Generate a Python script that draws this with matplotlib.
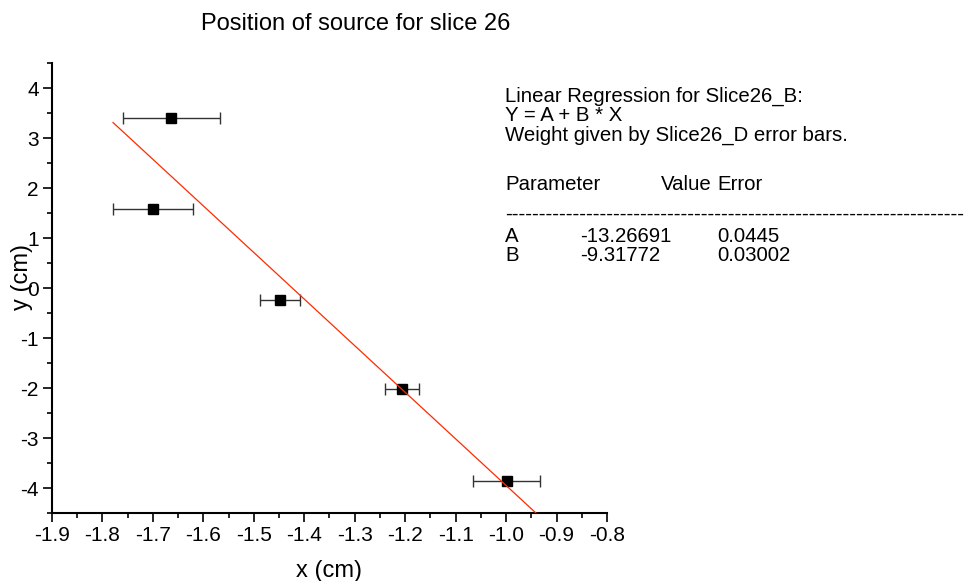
import numpy as np
import matplotlib
matplotlib.use('Agg')
import matplotlib.pyplot as plt
from matplotlib.ticker import MultipleLocator

plt.rcParams['font.family'] = ['Liberation Sans', 'DejaVu Sans']

# data
x_pos = [-1.664, -1.700, -1.448, -1.206, -0.999]
y_pos = [3.40, 1.59, -0.23, -2.02, -3.86]
x_err = [0.096, 0.079, 0.040, 0.034, 0.066]

fit_A = -13.26691
fit_B = -9.31772
fit_errA = 0.0445
fit_errB = 0.03002

title = 'Position of source for slice 26'
W, H = 967, 581

def fx(px):
    return px / W

def fy(py):
    return 1 - py / H

fig = plt.figure(figsize=(W / 100, H / 100), dpi=100)
ax = fig.add_axes([fx(52), fy(513), fx(607) - fx(52), fy(63) - fy(513)])

ax.errorbar(x_pos, y_pos, xerr=x_err, fmt='none', ecolor='#333333',
            elinewidth=1, capsize=4, capthick=1, zorder=2)
ax.plot(x_pos, y_pos, 's', color='black', markersize=7, zorder=3)

# fit line spans the data incl. error bars
xs = np.array([min(np.array(x_pos) - np.array(x_err)),
               max(np.array(x_pos) + np.array(x_err))])
ax.plot(xs, fit_A + fit_B * xs, '-', color='#ff2a00', linewidth=0.9, zorder=4)

ax.set_xlim(-1.9, -0.8)
ax.set_ylim(-4.5, 4.5)
ax.xaxis.set_major_locator(MultipleLocator(0.1))
ax.xaxis.set_minor_locator(MultipleLocator(0.05))
ax.yaxis.set_major_locator(MultipleLocator(1))
ax.yaxis.set_minor_locator(MultipleLocator(0.5))
ax.set_xticklabels([f'{v:.1f}' for v in ax.get_xticks()])
ax.set_yticks(np.arange(-4, 5, 1))
ax.set_yticklabels([f'{v:d}' for v in np.arange(-4, 5, 1)])

for s in ['top', 'right']:
    ax.spines[s].set_visible(False)
for s in ['left', 'bottom']:
    ax.spines[s].set_linewidth(1.5)
ax.tick_params(which='major', direction='out', length=6.5, width=1.2,
               labelsize=15, pad=3)
ax.tick_params(which='minor', direction='out', length=3.6, width=1.2)

ax.set_xlabel('x (cm)', fontsize=17)
ax.set_ylabel('y (cm)', fontsize=17)
ax.yaxis.set_label_coords(-0.034, 0.524)
ax.xaxis.set_label_coords(0.5, -0.105)

fig.text(fx(356), fy(24), title, fontsize=17, ha='center', va='center')

fs = 14.7
lines = ['Linear Regression for Slice26_B:', 'Y = A + B * X',
         'Weight given by Slice26_D error bars.']
for i, s in enumerate(lines):
    fig.text(fx(505), fy(96 + 19.5 * i), s, fontsize=fs, va='center')
fig.text(fx(505), fy(185), 'Parameter', fontsize=fs, va='center')
fig.text(fx(712), fy(185), 'Value', fontsize=fs, va='center', ha='right')
fig.text(fx(717), fy(185), 'Error', fontsize=fs, va='center')
fig.text(fx(505), fy(214), '-' * 68, fontsize=fs, va='center')
fig.text(fx(505), fy(237), 'A', fontsize=fs, va='center')
fig.text(fx(580), fy(237), f'{fit_A:.5f}', fontsize=fs, va='center')
fig.text(fx(717), fy(237), f'{fit_errA}', fontsize=fs, va='center')
fig.text(fx(505), fy(255.5), 'B', fontsize=fs, va='center')
fig.text(fx(580), fy(255.5), f'{fit_B:.5f}', fontsize=fs, va='center')
fig.text(fx(717), fy(255.5), f'{fit_errB}', fontsize=fs, va='center')

fig.savefig('out.png', dpi=100)
